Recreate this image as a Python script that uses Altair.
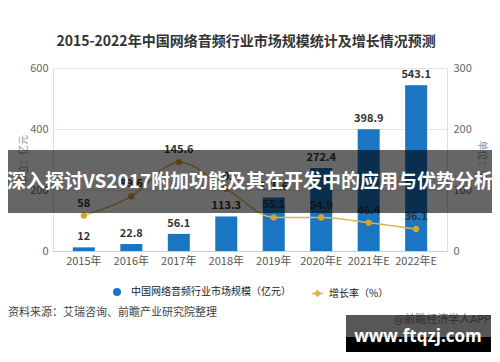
import altair as alt
import pandas as pd

years = ['2015年', '2016年', '2017年', '2018年', '2019年', '2020年E', '2021年E', '2022年E']
market = [12, 22.8, 56.1, 113.3, 175.6, 272.4, 398.9, 543.1]
growth = [58, 89.6, 145.6, 102, 55.1, 54.9, 46.4, 36.1]
series_market = '中国网络音频行业市场规模（亿元）'
series_growth = '增长率（%）'
chart_title = '2015-2022年中国网络音频行业市场规模统计及增长情况预测'
source_text = '资料来源：艾瑞咨询、前瞻产业研究院整理'
credit_text = '@前瞻经济学人APP'
banner_text = '深入探讨VS2017附加功能及其在开发中的应用与优势分析'
watermark_text = 'www.ftqzj.com'

FONT = 'Noto Sans CJK SC'

df = pd.DataFrame({
    'year': years,
    'market': market,
    'growth': growth,
    's1': [series_market] * len(years),
    's2': [series_growth] * len(years),
})
one = pd.DataFrame({'t': [0]})

x_enc = alt.X('year:N', sort=years,
              scale=alt.Scale(paddingInner=0.5, paddingOuter=0.4),
              axis=alt.Axis(title=None, labelAngle=0, ticks=False, domainColor='#cccccc',
                            labelColor='#555555', labelFontSize=11, labelPadding=4, labelFont=FONT))

base = alt.Chart(df)

bars = base.mark_bar(size=22).encode(
    x=x_enc,
    y=alt.Y('market:Q', scale=alt.Scale(domain=[0, 600]),
            axis=alt.Axis(orient='left', values=[0, 200, 400, 600], title='单位：亿元',
                          ticks=False, domain=False, gridColor='#e6e6e6', labelColor='#666666',
                          labelFontSize=11, labelPadding=5, titleColor='#999999', titleFontSize=10,
                          titleFontWeight='normal', titlePadding=1, labelFont=FONT, titleFont=FONT)),
    fill=alt.Fill('s1:N', scale=alt.Scale(range=['#1a75c2']),
                  legend=alt.Legend(orient='none', legendX=59, legendY=219, title=None,
                                    symbolType='circle', symbolSize=64, labelFontSize=10,
                                    labelColor='#222222', labelOffset=9, labelFont=FONT)),
)

bar_text = base.mark_text(baseline='bottom', dy=-5, fontSize=11, fontWeight='bold',
                          color='#333333', font=FONT).encode(
    x=x_enc,
    y=alt.Y('market:Q', scale=alt.Scale(domain=[0, 600]), axis=None),
    text=alt.Text('market:Q', format='~g'),
)

line = base.mark_line(interpolate='monotone', strokeWidth=1.5).encode(
    x=x_enc,
    y=alt.Y('growth:Q', scale=alt.Scale(domain=[0, 300]),
            axis=alt.Axis(orient='right', values=[0, 100, 200, 300], title='单位：%',
                          ticks=False, domain=False, grid=False, labelColor='#666666',
                          labelFontSize=11, labelPadding=6, titleColor='#999999', titleFontSize=10,
                          titleFontWeight='normal', titlePadding=5, labelFont=FONT, titleFont=FONT)),
    stroke=alt.Stroke('s2:N', scale=alt.Scale(range=['#dcb44a']),
                      legend=alt.Legend(orient='none', legendX=258, legendY=219, title=None,
                                        symbolType='M-1,0L1,0M0,-0.5L0.5,0L0,0.5L-0.5,0Z',
                                        symbolSize=121, symbolFillColor='#f0b030',
                                        symbolStrokeColor='#f0b030', symbolStrokeWidth=1.5,
                                        labelFontSize=10, labelColor='#222222', labelOffset=5,
                                        labelFont=FONT)),
)

points = base.mark_point(filled=True, size=40, color='#d4a52a', opacity=1).encode(
    x=x_enc,
    y=alt.Y('growth:Q', scale=alt.Scale(domain=[0, 300]), axis=None),
)

growth_text = base.mark_text(baseline='bottom', dy=-7, fontSize=11, fontWeight='bold',
                             color='#333333', font=FONT).encode(
    x=x_enc,
    y=alt.Y('growth:Q', scale=alt.Scale(domain=[0, 300]), axis=None),
    text=alt.Text('growth:Q', format='~g'),
)

ov = alt.Chart(one)
banner = ov.mark_rect(color='#000000', opacity=0.6).encode(
    x=alt.value(-45), x2=alt.value(439), y=alt.value(82), y2=alt.value(145))
banner_t = ov.mark_text(text=banner_text, font=FONT, fontSize=19, fontWeight='bold',
                        color='white', align='center', baseline='middle').encode(
    x=alt.value(197), y=alt.value(114))
title_t = ov.mark_text(text=chart_title, font=FONT, fontSize=14, fontWeight='bold',
                       color='#333333', align='center', baseline='middle').encode(
    x=alt.value(193), y=alt.value(-26))
source_t = ov.mark_text(text=source_text, font=FONT, fontSize=11,
                        color='#444444', align='left', baseline='middle').encode(
    x=alt.value(-45), y=alt.value(245))
credit_t = ov.mark_text(text=credit_text, font=FONT, fontSize=11,
                        color='#888888', align='right', baseline='middle').encode(
    x=alt.value(438), y=alt.value(252))
wm_gray = ov.mark_rect(color='#000000', opacity=0.66).encode(
    x=alt.value(293), x2=alt.value(438), y=alt.value(247), y2=alt.value(269))
wm_black = ov.mark_rect(color='#000000', opacity=1).encode(
    x=alt.value(293), x2=alt.value(438), y=alt.value(269), y2=alt.value(284))
wm_t = ov.mark_text(text=watermark_text, font='Open Sans', fontSize=17, fontWeight='bold',
                    color='white', align='center', baseline='middle').encode(
    x=alt.value(365), y=alt.value(269))

chart = alt.layer(
    bars, bar_text, line, points, growth_text,
    banner, banner_t, title_t, source_t, credit_t, wm_gray, wm_black, wm_t
).resolve_scale(y='independent').properties(
    width=394, height=183,
    autosize=alt.AutoSizeParams(type='none'),
    padding={'left': 45, 'top': 60, 'right': 45, 'bottom': 103},
).configure_view(stroke=None).configure(font=FONT, background='white')

chart.save('out.html', embed_options={'renderer': 'svg', 'actions': False})
